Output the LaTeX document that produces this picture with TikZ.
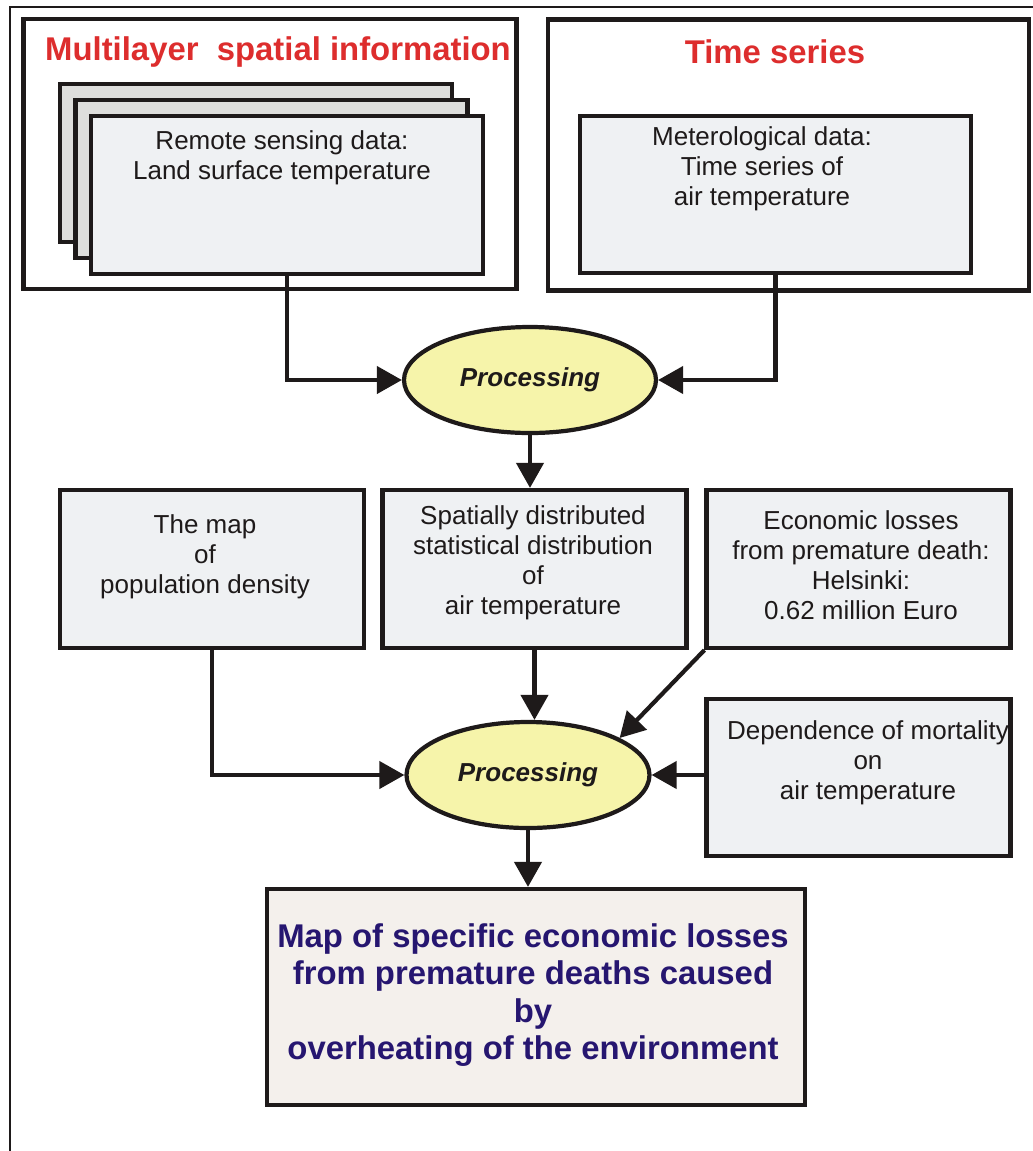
\documentclass[tikz,border=0pt]{standalone}
\usepackage{fontspec}
\setmainfont{Liberation Sans}
\definecolor{TitleRed}{RGB}{221, 45, 45}
\definecolor{DeepNavy}{RGB}{38, 22, 112}
\definecolor{BoxGray}{RGB}{239, 241, 243}
\definecolor{LayerGray}{RGB}{222, 222, 220}
\definecolor{ProcYellow}{RGB}{246, 244, 170}
\definecolor{ResultBeige}{RGB}{244, 240, 236}
\definecolor{LineBlack}{RGB}{30, 26, 26}
\usetikzlibrary{arrows.meta, positioning, shapes.geometric}

\begin{document}
\begin{tikzpicture}[
    group/.style={draw=LineBlack, line width=2.4pt, fill=white, inner sep=0pt},
    databox/.style={draw=LineBlack, line width=2.4pt, fill=BoxGray, inner sep=0pt,
        minimum width=6.08cm, minimum height=3.16cm},
    layer/.style={databox, minimum width=7.84cm, minimum height=3.16cm},
    proc/.style={ellipse, draw=LineBlack, line width=2.4pt, fill=ProcYellow, inner sep=0pt,
        minimum height=2.12cm, font=\fontsize{14.8}{17}\selectfont\bfseries\itshape, text=LineBlack},
    txt/.style={align=center, font=\fontsize{14.8}{17}\selectfont, text=LineBlack},
    heading/.style={font=\fontsize{18.7}{21}\selectfont\bfseries, text=TitleRed},
    flow/.style={-{Triangle[length=5mm, width=5.4mm]}, line width=2.4pt, draw=LineBlack}
]
    \useasboundingbox (0,0) rectangle (20.66,-23.02);

    % Outer frame (only top and left edges visible)
    \draw[line width=1.6pt, LineBlack] (0.2,-23.02) -- (0.2,-0.14) -- (20.66,-0.14);

    % Input groups
    \node[group, minimum width=9.86cm, minimum height=5.40cm] (spatialGroup) at (5.40,-3.08) {};
    \node[group, minimum width=9.62cm, minimum height=5.42cm] (timeGroup) at (15.77,-3.10) {};
    \node[heading] (spatialTitle) at (5.56,-1.04) {Multilayer\ \ spatial information};
    \node[heading] (timeTitle) at (15.50,-1.04) {Time series};

    % Stacked layers of remote sensing data
    \foreach \k in {2,1} {
        \node[layer, fill=LayerGray] (layer\k) at ({5.74-0.31*\k}, {-3.90+0.32*\k}) {};
    }
    \node[layer] (front) at (5.74,-3.90) {};
    \node[txt] (remoteText) at (5.64,-3.16) {Remote sensing data:\\Land surface temperature};

    % Meteorological data
    \node[layer, minimum width=7.82cm, minimum height=3.14cm] (metBox) at (15.51,-3.89) {};
    \node[txt] (metText) at (15.24,-3.38) {Meterological data:\\Time series of\\air temperature};

    % First processing step
    \node[proc, minimum width=5.04cm] (proc1) at (10.60,-7.60) {Processing};

    % Middle row
    \node[databox] (mapBox) at (4.24,-11.38) {};
    \node[databox] (spatBox) at (10.69,-11.38) {};
    \node[databox] (econBox) at (17.17,-11.38) {};
    \node[txt] (mapText) at (4.10,-11.14) {The map\\of\\population density};
    \node[txt] (spatText) at (10.66,-11.26) {Spatially distributed\\statistical distribution\\of\\air temperature};
    \node[txt] (econText) at (17.22,-11.30) {Economic losses\\from premature death:\\Helsinki:\\0.62 million Euro};

    % Second processing step
    \node[proc, minimum width=4.86cm] (proc2) at (10.56,-15.50) {Processing};
    \node[databox, minimum height=3.14cm] (depBox) at (17.17,-15.55) {};
    \node[txt] (depText) at (17.36,-15.26) {Dependence of mortality\\on\\air temperature};

    % Result
    \node[databox, fill=ResultBeige, minimum width=10.76cm, minimum height=4.32cm] (resultBox) at (10.72,-19.94) {};
    \node[align=center, font=\fontsize{18.7}{21.2}\selectfont\bfseries, text=DeepNavy] (resultText) at (10.66,-19.90)
        {Map of specific economic losses\\from premature deaths caused\\by\\overheating of the environment};

    % Connectors
    \draw[flow] (front.south) |- (proc1.west);
    \draw[flow] (metBox.south) |- (proc1.east);
    \draw[flow] (proc1.south) -- (proc1.south |- spatBox.north);
    \draw[flow] (mapBox.south) |- (proc2.west);
    \draw[flow] (spatBox.south) -- (spatBox.south |- proc2.north);
    \draw[flow] (econBox.south west) -- (proc2.22);
    \draw[flow] (depBox.west |- proc2.east) -- (proc2.east);
    \draw[flow] (proc2.south) -- (proc2.south |- resultBox.north);
\end{tikzpicture}
\end{document}
